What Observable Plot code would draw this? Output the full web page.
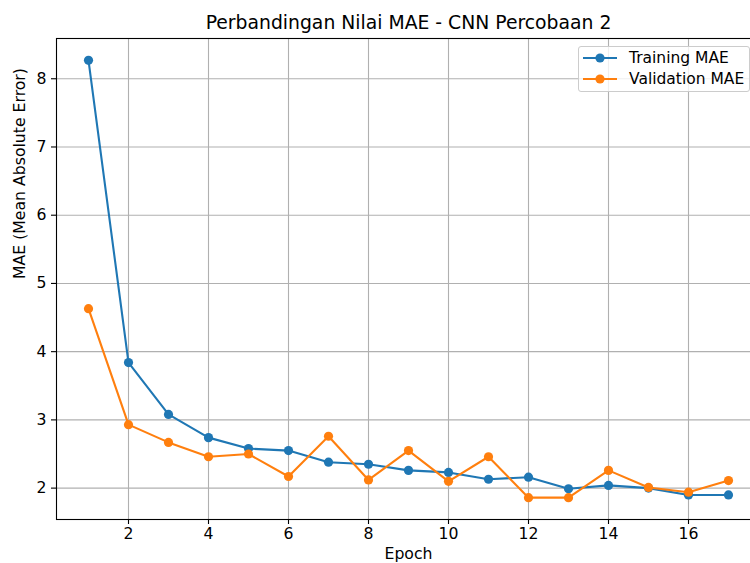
<!DOCTYPE html>
<html>
<head>
<meta charset="utf-8">
<script src="https://cdn.jsdelivr.net/npm/d3@7"></script>
<script src="https://cdn.jsdelivr.net/npm/@observablehq/plot@0.6"></script>
<style>
  html, body { margin: 0; padding: 0; background: #fff; }
  #wrap { position: relative; width: 750px; height: 563px; overflow: hidden; font-family: "DejaVu Sans", sans-serif; }
  #wrap > svg { max-width: none !important; position: absolute; left: 0; top: 0; }
  #legend { position: absolute; left: 578px; top: 46px; width: 172px; height: 46px; box-sizing: border-box;
    border: 1px solid #cccccc; border-radius: 3px; background: rgba(255,255,255,0.8); }
  .item { position: absolute; left: 0; height: 20px; display: flex; align-items: center; font-size: 15.5px; color: #000; white-space: nowrap; }
  .item svg { margin-left: 3px; margin-right: 11px; }
</style>
</head>
<body>
<div id="wrap"></div>
<script>
const title = "Perbandingan Nilai MAE - CNN Percobaan 2";
const xLabel = "Epoch";
const yLabel = "MAE (Mean Absolute Error)";
const epochs = [1,2,3,4,5,6,7,8,9,10,11,12,13,14,15,16,17];
const trainMAE = [8.27,3.84,3.08,2.74,2.58,2.55,2.38,2.35,2.26,2.23,2.13,2.16,1.99,2.04,2.00,1.90,1.90];
const valMAE = [4.63,2.93,2.67,2.46,2.50,2.17,2.76,2.12,2.55,2.10,2.46,1.86,1.86,2.26,2.01,1.94,2.11];
const seriesNames = ["Training MAE", "Validation MAE"];
const seriesColors = ["#1f77b4", "#ff7f0e"];
const xTicks = [2,4,6,8,10,12,14,16];
const yTicks = [2,3,4,5,6,7,8];

const train = epochs.map((e, i) => ({epoch: e, mae: trainMAE[i]}));
const val = epochs.map((e, i) => ({epoch: e, mae: valMAE[i]}));

const chart = Plot.plot({
  width: 762,
  height: 563,
  marginTop: 38,
  marginBottom: 44,
  marginLeft: 56,
  marginRight: 2,
  style: {fontFamily: "DejaVu Sans", fontSize: "15.7px", color: "#000", background: "#fff", maxWidth: "none"},
  x: {domain: [0.2, 17.8]},
  y: {domain: [1.54, 8.59]},
  marks: [
    Plot.gridX(xTicks, {stroke: "#b0b0b0", strokeOpacity: 1, strokeWidth: 1.1}),
    Plot.gridY(yTicks, {stroke: "#b0b0b0", strokeOpacity: 1, strokeWidth: 1.1}),
    Plot.axisX(xTicks, {tickSize: 5, tickPadding: 3, label: null, fontSize: 15.7, tickFormat: d3.format("d"), stroke: "#000", strokeWidth: 1.1}),
    Plot.axisY(yTicks, {tickSize: 5, tickPadding: 5, label: null, fontSize: 15.7, tickFormat: d3.format("d"), stroke: "#000", strokeWidth: 1.1}),
    Plot.line(train, {x: "epoch", y: "mae", stroke: seriesColors[0], strokeWidth: 2.1}),
    Plot.dot(train, {x: "epoch", y: "mae", fill: seriesColors[0], r: 4.6}),
    Plot.line(val, {x: "epoch", y: "mae", stroke: seriesColors[1], strokeWidth: 2.1}),
    Plot.dot(val, {x: "epoch", y: "mae", fill: seriesColors[1], r: 4.6}),
    Plot.frame({stroke: "#000", strokeWidth: 1.1}),
    Plot.text([title], {text: d => d, frameAnchor: "top", dy: -16, lineAnchor: "middle", fontSize: 18.8, fill: "#000"}),
    Plot.text([xLabel], {text: d => d, frameAnchor: "bottom", dy: 34, lineAnchor: "middle", fontSize: 15.7, fill: "#000"}),
    Plot.text([yLabel], {text: d => d, frameAnchor: "left", dx: -37, rotate: -90, lineAnchor: "middle", fontSize: 15.7, fill: "#000"})
  ]
});

const wrap = document.getElementById("wrap");
wrap.appendChild(chart);

const legend = document.createElement("div");
legend.id = "legend";
seriesNames.forEach((name, i) => {
  const item = document.createElement("div");
  item.className = "item";
  item.style.top = (i === 0 ? 1 : 22) + "px";
  item.innerHTML = `<svg width="36" height="12"><line x1="1" y1="6" x2="35" y2="6" stroke="${seriesColors[i]}" stroke-width="2.1"/><circle cx="18" cy="6" r="4.6" fill="${seriesColors[i]}"/></svg><span>${name}</span>`;
  legend.appendChild(item);
});
wrap.appendChild(legend);
</script>
</body>
</html>
